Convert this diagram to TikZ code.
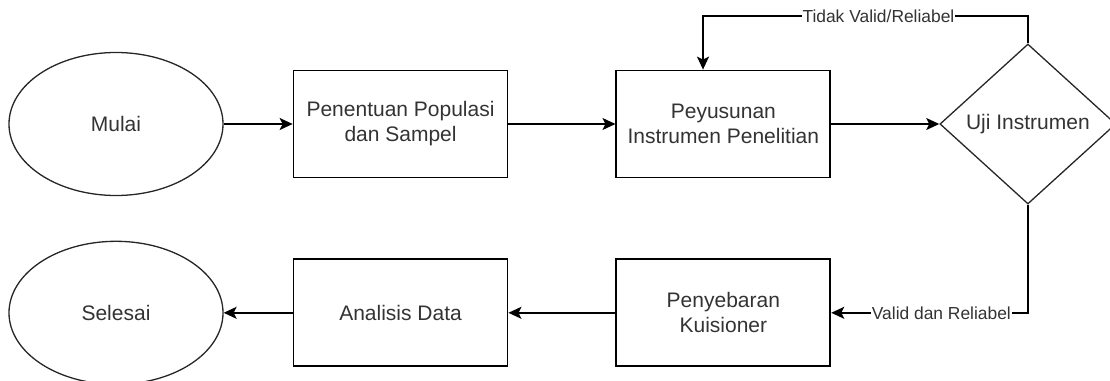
\documentclass[tikz,border=0pt]{standalone}
\usepackage{fontspec}
\setmainfont{Liberation Sans}
\usetikzlibrary{positioning,arrows.meta,shapes.geometric}

\begin{document}
\begin{tikzpicture}[x=1pt,y=-1pt,
	font=\fontsize{21}{25}\selectfont,
	text=black!80,
	terminal/.style={ellipse,draw=black!85,line width=1.3pt,minimum width=214pt,minimum height=143pt,inner sep=0pt},
	proses/.style={rectangle,draw,line width=1.8pt,minimum width=214pt,minimum height=107pt,align=center},
	keputusan/.style={diamond,draw=black!85,line width=1.3pt,minimum width=176pt,minimum height=160pt,inner sep=0pt},
	panah/.style={-{Stealth[length=13pt,width=12pt,inset=3pt]},line width=1.6pt},
	ket/.style={fill=white,inner sep=1pt,font=\fontsize{17.4}{20}\selectfont},]
	\useasboundingbox (0,0) rectangle (1110,380);
	\node [terminal] (mulai) at (116,124) {Mulai};
	\node [proses,right=69pt of mulai] (populasi) {Penentuan Populasi\\dan Sampel};
	\node [proses,right=107pt of populasi] (susun) {Peyusunan\\Instrumen Penelitian};
	\node [keputusan,right=108pt of susun] (uji) {Uji Instrumen};
	\node [proses,below=80pt of susun] (sebar) {Penyebaran\\Kuisioner};
	\node [proses,below=80pt of populasi] (analisis) {Analisis Data};
	\node [terminal] (selesai) at (mulai |- analisis) {Selesai};
	\coordinate (balik) at (703,16);
	\draw [panah] (mulai) -- (populasi);
	\draw [panah] (populasi) -- (susun);
	\draw [panah] (susun) -- (uji);
	\draw [panah] (uji.north) |- node [ket,pos=0.73] {Tidak Valid/Reliabel} (balik) -- (balik |- susun.north);
	\draw [panah] (uji.south) |- node [ket,pos=0.72] {Valid dan Reliabel} (sebar.east);
	\draw [panah] (sebar) -- (analisis);
	\draw [panah] (analisis) -- (selesai);
\end{tikzpicture}
\end{document}
